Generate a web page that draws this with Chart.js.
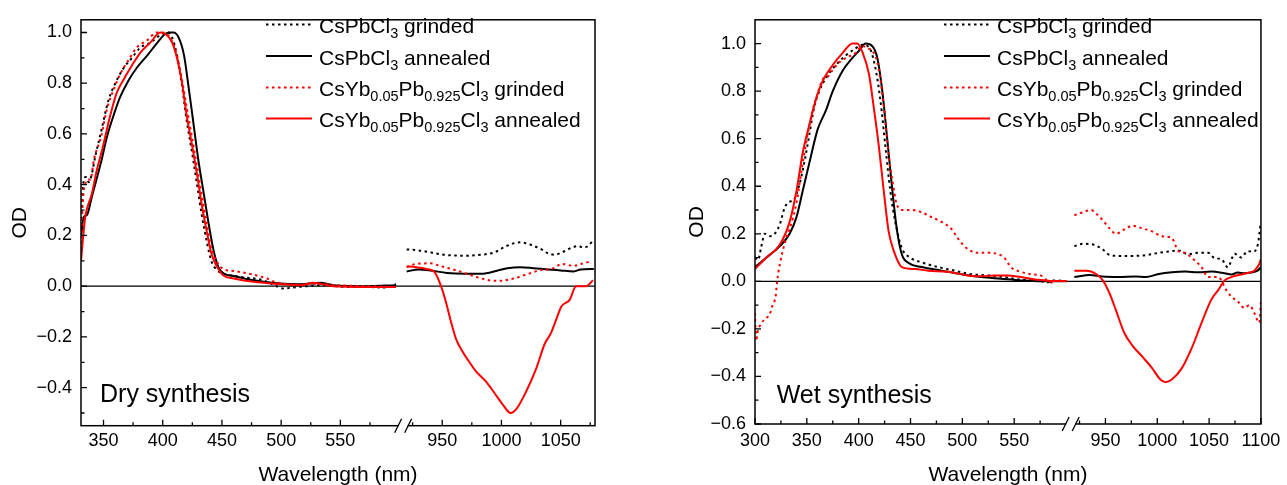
<!DOCTYPE html>
<html><head><meta charset="utf-8">
<script src="https://cdn.jsdelivr.net/npm/chart.js@4.4.1/dist/chart.umd.min.js"></script>
<style>
html,body{margin:0;padding:0;background:#fff;overflow:hidden}
#wrap{position:relative;width:1287px;height:485px;background:#fff}
canvas{position:absolute;top:0}
</style></head><body>
<div id="wrap">
<canvas id="dry" width="640" height="485" style="left:0;width:640px;height:485px"></canvas>
<canvas id="wet" width="647" height="485" style="left:640px;width:647px;height:485px"></canvas>
</div>
<script>
// ---------- Dry synthesis (left panel) ----------
const dryPbGrindWl = [331,332,333.5,335,337.5,340,343,348.5,354,360,367,374,381,389.5,398,403.5,408,412,416,420,425,429,433,437,441,446,451,465,485,494,502,510,522,533,544,558,572,586,597,
  920,932,951,969,983,994,1004,1016,1024,1033,1039,1045,1051,1059,1065,1069,1073,1078];
const dryPbGrindOD = [0.12,0.33,0.42,0.43,0.41,0.44,0.51,0.62,0.73,0.80,0.86,0.90,0.94,0.96,0.99,1.0,0.98,0.91,0.80,0.66,0.52,0.40,0.28,0.18,0.10,0.063,0.05,0.037,0.023,0.004,-0.009,-0.005,0,0.004,0,-0.003,-0.003,-0.005,0.008,
  0.145,0.14,0.124,0.12,0.124,0.133,0.158,0.173,0.164,0.147,0.13,0.124,0.133,0.151,0.158,0.152,0.158,0.184];

const dryPbAnnWl = [331,333,336,340,348,353,359,364,371,378,387,395.5,401,405,409,413.5,418,422,426,430,434.5,439,443,447,451.5,460,477,494,516,533,544,572,597,
  920,930,940,954,969,983,997,1005,1016,1027,1039,1050,1061,1067,1078];
const dryPbAnnOD = [0.19,0.27,0.28,0.35,0.49,0.59,0.68,0.745,0.81,0.86,0.91,0.96,0.99,1.0,1.0,0.98,0.91,0.78,0.64,0.50,0.37,0.24,0.14,0.075,0.05,0.04,0.023,0.013,0.008,0.013,0.004,0,0.004,
  0.058,0.066,0.062,0.052,0.049,0.049,0.062,0.071,0.075,0.071,0.066,0.062,0.058,0.066,0.068];

const dryYbGrindWl = [331,333,335,337,339,342,348,353,359,364,371,378,387,395,400,406,412,416,420,425,429,433,437,441,446,451,460,477,488,496,516,530,544,572,597,
  920,928,940,948,962,979,990,999,1010,1021,1032,1044,1051,1061,1069,1075];
const dryYbGrindOD = [0.19,0.36,0.41,0.42,0.42,0.50,0.59,0.70,0.78,0.835,0.89,0.94,0.97,1.0,1.0,0.98,0.91,0.82,0.71,0.58,0.47,0.36,0.25,0.15,0.094,0.068,0.06,0.045,0.03,0.015,0.005,0.01,0.005,0,-0.003,
  0.075,0.088,0.09,0.08,0.062,0.036,0.023,0.021,0.03,0.046,0.062,0.071,0.088,0.08,0.09,0.097];

const dryYbAnnWl = [331,334.5,337,340,344,349.5,355,361,367,374,381,389.5,398,403.5,408,412,416,420,425,429,433,437,441,446,451,460,477,494,516,527,533,544,572,597,
  920,928,936.5,943.5,949,953.4,957.6,961.8,967.5,973,978.7,987,994,1001,1007.7,1012.5,1021,1029.4,1036.5,1042,1046.3,1050.6,1057.6,1063,1071.7,1077.3];
const dryYbAnnOD = [0.10,0.27,0.32,0.36,0.45,0.55,0.66,0.76,0.815,0.87,0.92,0.96,1.0,0.99,0.96,0.90,0.81,0.68,0.55,0.44,0.32,0.22,0.13,0.075,0.043,0.03,0.017,0.01,0.004,0.013,0.01,0,-0.003,-0.003,
  0.078,0.075,0.068,0.055,0.0,-0.067,-0.144,-0.21,-0.26,-0.30,-0.337,-0.376,-0.42,-0.466,-0.5,-0.485,-0.414,-0.324,-0.228,-0.183,-0.131,-0.08,-0.054,0,0,0.023];

// ---------- Wet synthesis (right panel) ----------
const wetPbGrindWl = [300,303,306,309.5,314,319,324,328.6,333.4,337,343,348,352.5,357,362,368.5,378,387.6,397,403.5,410,416,421,425.7,430.5,435.3,441.6,449.6,460.8,476.7,492.6,508.5,524.5,540.4,556.3,572.2,581.8,588.2,600.9,
  920,928,938,947.5,954,963,976,989,1001.5,1014,1020.5,1030,1039.6,1049,1055.5,1062,1068,1074.6,1081,1087,1092,1097,1099.5];
const wetPbGrindOD = [0.10,0.09,0.145,0.20,0.19,0.20,0.24,0.31,0.335,0.34,0.41,0.51,0.62,0.73,0.80,0.855,0.91,0.95,0.98,0.995,0.985,0.90,0.76,0.57,0.38,0.25,0.14,0.10,0.08,0.06,0.045,0.03,0.025,0.018,0.007,0.004,-0.004,0.004,0.001,
  0.148,0.158,0.155,0.134,0.111,0.107,0.107,0.11,0.12,0.127,0.13,0.114,0.12,0.12,0.097,0.093,0.059,0.116,0.10,0.127,0.125,0.155,0.237];

const wetPbAnnWl = [300,311,324,333.4,340,346,352.5,360.5,368.5,375,384.4,394,400.3,406.7,413,418,422.8,427.5,432.3,437.1,441.9,448.3,460.8,479.9,499,518.1,537.2,556.3,575.4,600.9,
  920,935,947,963,979,989,1001.5,1014,1027,1039.6,1052,1065,1071.4,1077.7,1084,1090.5,1096.8,1100];
const wetPbAnnOD = [0.06,0.10,0.148,0.20,0.27,0.38,0.50,0.64,0.72,0.80,0.885,0.94,0.97,1.0,0.99,0.94,0.80,0.60,0.39,0.21,0.11,0.077,0.06,0.045,0.03,0.018,0.011,0.004,0,0,
  0.018,0.027,0.02,0.018,0.02,0.018,0.031,0.038,0.041,0.038,0.041,0.034,0.029,0.037,0.034,0.037,0.045,0.059];

const wetYbGrindWl = [300,301,303,305,309,314,317,320,321.3,324,330,333.4,340,345,350,355.7,360.5,365.3,370,375,381,387.6,397,403.5,408.3,413,418,422.8,426,429,432.3,437,443,451,460.8,470.3,479.9,489.5,495.8,505.4,514.9,524.5,534,540.4,546.8,556.3,565.9,575.4,581.8,588.2,
  920,928,936,941,947.5,954,960,970,976,985.6,995,1004.7,1014,1020.5,1027,1033,1042.8,1049,1058.7,1066.6,1071.4,1077.7,1084,1089,1093.6,1098.4,1100];
const wetYbGrindOD = [-0.133,-0.25,-0.20,-0.186,-0.16,-0.14,-0.10,-0.06,0,0.073,0.18,0.22,0.33,0.47,0.60,0.72,0.79,0.85,0.86,0.89,0.92,0.94,0.96,0.99,0.98,0.97,0.92,0.79,0.66,0.53,0.43,0.32,0.30,0.30,0.29,0.27,0.25,0.22,0.18,0.135,0.12,0.12,0.115,0.10,0.06,0.04,0.03,0.025,0.004,-0.01,
  0.278,0.29,0.30,0.285,0.257,0.223,0.20,0.223,0.234,0.223,0.21,0.19,0.182,0.127,0.12,0.10,0.059,0.018,0.018,-0.037,-0.064,-0.085,-0.112,-0.10,-0.133,-0.174,-0.085];

const wetYbAnnWl = [300,311,324,333.4,340,346,352.5,359,365,375,384.4,394,398.7,403.5,410,414.6,419.4,424.2,428.9,433.7,441.6,454.4,467.1,486.2,505.4,518.1,530.8,543.6,556.3,572.2,588.2,600.9,
  920,931.6,941,947.5,954,960,968,976,985.6,995,1003,1008,1014,1023.7,1033,1042.8,1052,1058.7,1065,1071.4,1081,1089,1093.6,1098.4,1100];
const wetYbAnnOD = [0.052,0.10,0.155,0.25,0.38,0.54,0.66,0.77,0.84,0.91,0.96,1.0,1.0,0.965,0.87,0.73,0.57,0.38,0.21,0.13,0.06,0.052,0.045,0.04,0.025,0.021,0.025,0.025,0.018,0.007,0.001,0.001,
  0.045,0.045,0.031,0.004,-0.051,-0.12,-0.215,-0.27,-0.317,-0.365,-0.413,-0.424,-0.413,-0.365,-0.283,-0.174,-0.078,-0.037,0.004,0.018,0.029,0.037,0.045,0.073,0.093];

// ---------- ticks ----------
const dryXTickLabels = [350,400,450,500,550,950,1000,1050];
const dryXMinorTicks = [375,425,475,525,575,925,975,1025,1075];
const wetXTickLabels = [300,350,400,450,500,550,950,1000,1050,1100];
const wetXMinorTicks = [325,375,425,475,525,575,925,975,1025,1075];
const dryYTickLabels = [-0.4,-0.2,0,0.2,0.4,0.6,0.8,1.0];
const dryYMinorTicks = [-0.5,-0.3,-0.1,0.1,0.3,0.5,0.7,0.9];
const wetYTickLabels = [-0.6,-0.4,-0.2,0,0.2,0.4,0.6,0.8,1.0];
const wetYMinorTicks = [-0.5,-0.3,-0.1,0.1,0.3,0.5,0.7,0.9];

// ---------- legend text ----------
const legendLabels = [
  [['CsPbCl',0],['3',1],[' grinded',0]],
  [['CsPbCl',0],['3',1],[' annealed',0]],
  [['CsYb',0],['0.05',1],['Pb',0],['0.925',1],['Cl',0],['3',1],[' grinded',0]],
  [['CsYb',0],['0.05',1],['Pb',0],['0.925',1],['Cl',0],['3',1],[' annealed',0]]
];

const FONT = "'Liberation Sans', Arial, Helvetica, sans-serif";
Chart.defaults.font.family = FONT;
Chart.defaults.color = '#000';

const RED = '#ff0000', BLACK = '#000000', DOT = [2.5, 3.5];
const legendStyles = [[BLACK, DOT],[BLACK, []],[RED, DOT],[RED, []]];

function toV(w, off){ return w > 800 ? w - off : w; }
function series(wl, od, off, breakV){
  const pts = [];
  for (let i = 0; i < wl.length; i++){
    if (i > 0 && wl[i-1] < 800 && wl[i] > 800) pts.push({x: breakV, y: null});
    pts.push({x: toV(wl[i], off), y: od[i]});
  }
  return pts;
}

function decorPlugin(p){
  return {
    id: 'decor_' + p.id,
    beforeDatasetsDraw(chart){
      const {ctx, chartArea: a, scales: {y}} = chart;
      const y0 = y.getPixelForValue(0);
      ctx.save();
      ctx.strokeStyle = '#000'; ctx.lineWidth = 1.3;
      ctx.beginPath(); ctx.moveTo(a.left, y0); ctx.lineTo(a.right, y0); ctx.stroke();
      ctx.restore();
    },
    afterDatasetsDraw(chart){
      const {ctx, chartArea: a, scales: {x, y}} = chart;
      ctx.save();
      ctx.strokeStyle = '#000';
      ctx.lineWidth = 1.5;
      ctx.strokeRect(a.left, a.top, a.right - a.left, a.bottom - a.top);
      ctx.lineWidth = 1.3;
      ctx.beginPath();
      p.xMajor.forEach(w => { const px = x.getPixelForValue(toV(w, p.off)); ctx.moveTo(px, a.bottom); ctx.lineTo(px, a.bottom - 6); });
      p.xMinor.forEach(w => { const px = x.getPixelForValue(toV(w, p.off)); ctx.moveTo(px, a.bottom); ctx.lineTo(px, a.bottom - 3.5); });
      p.yMajor.forEach(v => { const py = y.getPixelForValue(v); ctx.moveTo(a.left, py); ctx.lineTo(a.left + 6, py); });
      p.yMinor.forEach(v => { const py = y.getPixelForValue(v); ctx.moveTo(a.left, py); ctx.lineTo(a.left + 3.5, py); });
      ctx.stroke();
      // axis break marks
      const bp = x.getPixelForValue(p.breakV);
      ctx.fillStyle = '#fff';
      ctx.fillRect(bp - 4.5, a.bottom - 2, 9, 4);
      ctx.beginPath();
      [bp - 5, bp + 5].forEach(c => { ctx.moveTo(c - 3.5, a.bottom + 7); ctx.lineTo(c + 3.5, a.bottom - 7); });
      ctx.stroke();
      // legend
      for (let i = 0; i < 4; i++){
        const base = p.legY[i];
        const ly = base - 8.5;
        ctx.strokeStyle = legendStyles[i][0];
        ctx.setLineDash(legendStyles[i][1]);
        ctx.lineWidth = 2;
        ctx.beginPath(); ctx.moveTo(p.legX, ly); ctx.lineTo(p.legX + 46, ly); ctx.stroke();
        ctx.setLineDash([]);
        ctx.fillStyle = '#000';
        ctx.textBaseline = 'alphabetic';
        let cx = p.legX + 53;
        legendLabels[i].forEach(([t, sub]) => {
          ctx.font = (sub ? '14.5px ' : '21px ') + FONT;
          ctx.fillText(t, cx, base + (sub ? 5 : 0));
          cx += ctx.measureText(t).width;
        });
      }
      // panel name
      ctx.font = '25px ' + FONT;
      ctx.fillStyle = '#000';
      ctx.fillText(p.name, p.nameX, p.nameY);
      ctx.restore();
    }
  };
}

function makePanel(p){
  const ds = [
    {data: series(p.ybAnn[0], p.ybAnn[1], p.off, p.breakV), borderColor: RED, borderDash: []},
    {data: series(p.ybGrind[0], p.ybGrind[1], p.off, p.breakV), borderColor: RED, borderDash: DOT},
    {data: series(p.pbAnn[0], p.pbAnn[1], p.off, p.breakV), borderColor: BLACK, borderDash: []},
    {data: series(p.pbGrind[0], p.pbGrind[1], p.off, p.breakV), borderColor: BLACK, borderDash: DOT}
  ].map(d => Object.assign(d, {borderWidth: 2, pointRadius: 0, fill: false, cubicInterpolationMode: 'monotone', spanGaps: false}));

  new Chart(document.getElementById(p.id), {
    type: 'line',
    data: {datasets: ds},
    options: {
      responsive: false, animation: false, devicePixelRatio: 1,
      layout: {padding: {top: 11, right: p.padRight, left: p.padLeft, bottom: 0}},
      plugins: {legend: {display: false}, tooltip: {enabled: false}},
      scales: {
        x: {
          type: 'linear', min: p.xMin, max: p.xMax,
          grid: {display: false, drawTicks: false}, border: {display: false},
          ticks: {autoSkip: false, maxRotation: 0, minRotation: 0, padding: p.xTickPad, color: '#000', font: {size: 18},
            callback: v => String(Math.round(v > p.breakV ? v + p.off : v))},
          afterBuildTicks: s => { s.ticks = p.xMajor.map(w => ({value: toV(w, p.off)})); },
          afterFit: s => { s.height = p.xHeight; },
          title: {display: true, text: 'Wavelength (nm)', color: '#000', font: {size: 21}, padding: {top: 0, bottom: -2.5}}
        },
        y: {
          type: 'linear', min: p.yMin, max: p.yMax,
          grid: {display: false, drawTicks: false}, border: {display: false},
          ticks: {autoSkip: false, padding: 9, color: '#000', font: {size: 18},
            callback: v => (v < -1e-9 ? '\u2212' : '') + Math.abs(v).toFixed(1)},
          afterBuildTicks: s => { s.ticks = p.yMajor.map(v => ({value: v})); },
          afterFit: s => { s.width = p.yWidth; },
          title: {display: true, text: 'OD', color: '#000', font: {size: 21}, padding: {top: p.yTitlePad, bottom: 0}}
        }
      }
    },
    plugins: [decorPlugin(p)]
  });
}

makePanel({
  id: 'dry', name: 'Dry synthesis', nameX: 100, nameY: 402,
  off: 314, breakV: 603, xMin: 331, xMax: 765, yMin: -0.55, yMax: 1.05,
  padLeft: 0, padRight: 45, yWidth: 81, xHeight: 59.3, xTickPad: 5, yTitlePad: 7.4,
  xMajor: dryXTickLabels, xMinor: dryXMinorTicks, yMajor: dryYTickLabels, yMinor: dryYMinorTicks,
  legX: 266, legY: [33, 64.5, 96, 127],
  pbGrind: [dryPbGrindWl, dryPbGrindOD], pbAnn: [dryPbAnnWl, dryPbAnnOD],
  ybGrind: [dryYbGrindWl, dryYbGrindOD], ybAnn: [dryYbAnnWl, dryYbAnnOD]
});

makePanel({
  id: 'wet', name: 'Wet synthesis', nameX: 136.7, nameY: 403,
  off: 312, breakV: 604.5, xMin: 300, xMax: 788, yMin: -0.6, yMax: 1.1,
  padLeft: 40, padRight: 20.3, yWidth: 75, xHeight: 61, xTickPad: 6.7, yTitlePad: 4.4,
  xMajor: wetXTickLabels, xMinor: wetXMinorTicks, yMajor: wetYTickLabels, yMinor: wetYMinorTicks,
  legX: 304, legY: [33, 64.5, 96, 127],
  pbGrind: [wetPbGrindWl, wetPbGrindOD], pbAnn: [wetPbAnnWl, wetPbAnnOD],
  ybGrind: [wetYbGrindWl, wetYbGrindOD], ybAnn: [wetYbAnnWl, wetYbAnnOD]
});
</script>
</body></html>
